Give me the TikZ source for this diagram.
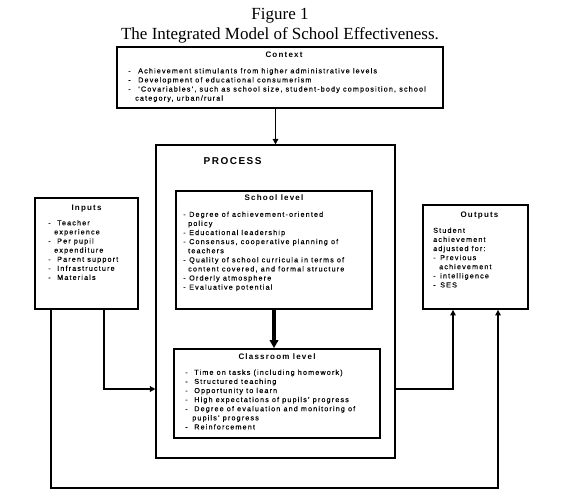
\documentclass[tikz,border=0pt]{standalone}
\usepackage{fontspec}
\setmainfont{Liberation Sans}
\newfontfamily\bodyfont[LetterSpace=16,FakeBold=0.3]{Liberation Sans}
\newfontfamily\headfont[LetterSpace=15]{Liberation Sans}
\newfontfamily\titlefont{Liberation Serif}
\usetikzlibrary{positioning,arrows.meta}
\newcommand\itm[2][9pt]{\makebox[#1][l]{-}#2}
\newcommand\cnt[2][7pt]{\hspace*{#1}#2}

\begin{document}
\begin{tikzpicture}[x=1pt, y=-1pt,
  box/.style={draw, line width=1.8pt, inner sep=0pt},
  head/.style={inner sep=0pt, font=\headfont\bfseries\fontsize{8}{9}\selectfont},
  lst/.style={inner sep=0pt, align=left, font=\bodyfont\fontsize{7.2}{9.1}\selectfont},
  ttl/.style={inner sep=0pt, anchor=base, font=\titlefont\fontsize{17}{20}\selectfont},
  link/.style={line width=1.6pt, -{Triangle[length=5.5pt,width=5.5pt]}}]
  \useasboundingbox (0,0) rectangle (564,499);
  \node[ttl] (fig) at (280,19.5) {Figure 1};
  \node[ttl] (title) at (280,39.5) {The Integrated Model of School Effectiveness.};

  \node[box, minimum width=326pt, minimum height=61pt] (ctx) at (280,77.5) {};
  \node[draw, line width=1.1pt, minimum width=239pt, minimum height=313pt] (proc) at (275.5,301.5) {};
  \node[box, minimum width=196pt, minimum height=118pt] (school) at (274,250) {};
  \node[box, minimum width=206pt, minimum height=89pt] (class) at (277,393.5) {};
  \node[box, minimum width=103pt, minimum height=111pt] (ins) at (86.5,253.5) {};
  \node[box, minimum width=105pt, minimum height=104pt] (outs) at (475.5,257) {};

  \node[head, below=5.6pt of ctx.north, xshift=4pt] (ctxhead) {Context};
  \node[lst, below right=21.8pt and 11.9pt of ctx.north west] (ctxlist) {
    \itm[10pt]{Achievement stimulants from higher administrative levels}\\
    \itm[10pt]{Development of educational consumerism}\\
    \itm[10pt]{‘Covariables’, such as school size, student-body composition, school}\\
    \cnt{category, urban/rural}};

  \node[head, font=\headfont\bfseries\fontsize{10}{12}\selectfont, below right=13pt and 48pt of proc.north west] (prochead) {PROCESS};

  \node[head, below=4.8pt of school.north] (schoolhead) {School level};
  \node[lst, below right=21.3pt and 7.9pt of school.north west] (schoollist) {
    \itm[6pt]{Degree of achievement-oriented}\\
    \cnt[5pt]{policy}\\
    \itm[6pt]{Educational leadership}\\
    \itm[6pt]{Consensus, cooperative planning of}\\
    \cnt[5pt]{teachers}\\
    \itm[6pt]{Quality of school curricula in terms of}\\
    \cnt[5pt]{content covered, and formal structure}\\
    \itm[6pt]{Orderly atmosphere}\\
    \itm[6pt]{Evaluative potential}};

  \node[head, below=5.8pt of class.north] (classhead) {Classroom level};
  \node[lst, below right=21.3pt and 12pt of class.north west] (classlist) {
    \itm{Time on tasks (including homework)}\\
    \itm{Structured teaching}\\
    \itm{Opportunity to learn}\\
    \itm{High expectations of pupils’ progress}\\
    \itm{Degree of evaluation and monitoring of}\\
    \cnt{pupils’ progress}\\
    \itm{Reinforcement}};

  \node[head, below=7.8pt of ins.north] (inshead) {Inputs};
  \node[lst, below right=22.8pt and 13.9pt of ins.north west] (inslist) {
    \itm{Teacher}\\
    \cnt[6pt]{experience}\\
    \itm{Per pupil}\\
    \cnt[6pt]{expenditure}\\
    \itm{Parent support}\\
    \itm{Infrastructure}\\
    \itm{Materials}};

  \node[head, below=7.8pt of outs.north, xshift=4pt] (outshead) {Outputs};
  \node[lst, below right=23.3pt and 10.9pt of outs.north west] (outslist) {
    Student\\
    achievement\\
    adjusted for:\\
    \itm[7pt]{Previous}\\
    \cnt[6pt]{achievement}\\
    \itm[7pt]{intelligence}\\
    \itm[7pt]{SES}};

  \draw[link] (proc.north |- ctx.south) -- (proc.north);
  \draw[line width=3.2pt, -{Triangle[length=8pt,width=8.5pt]}] (school.south) -- (school.south |- class.north);
  \draw[link] ([xshift=17.5pt]ins.south) |- ([yshift=-87.5pt]proc.west);
  \draw[link] ([yshift=-87.5pt]proc.east) -| ([xshift=-22.5pt]outs.south);
  \draw[link, line width=1.4pt] ([xshift=-35.5pt]ins.south) |- ([yshift=-29.5pt]proc.south) -| ([xshift=22.5pt]outs.south);
\end{tikzpicture}
\end{document}
